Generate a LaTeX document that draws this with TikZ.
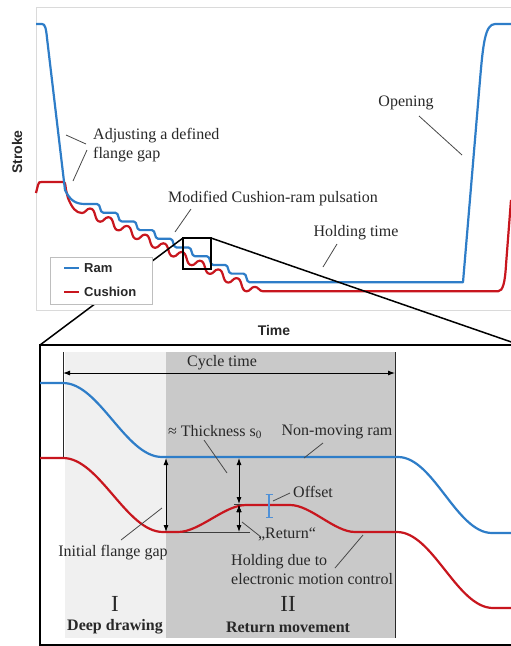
\documentclass[tikz,border=0pt]{standalone}
\usepackage{fontspec}
\setmainfont{Liberation Serif}
\setsansfont{Liberation Sans}
\usetikzlibrary{arrows.meta}
\definecolor{ramblue}{RGB}{46,125,200}
\definecolor{cushred}{RGB}{200,22,30}
\definecolor{offblue}{RGB}{80,145,215}
\definecolor{txtgray}{RGB}{40,40,40}
\definecolor{framegray}{RGB}{218,218,218}
\definecolor{legendgray}{RGB}{190,190,190}
\definecolor{phaseone}{RGB}{240,240,240}
\definecolor{phasetwo}{RGB}{201,201,201}

\begin{document}
\begin{tikzpicture}[x=1pt,y=-1pt,
    lbl/.style={text=txtgray,font=\fontsize{16}{19}\selectfont,inner sep=0pt},
    axis label/.style={text=txtgray,font=\sffamily\bfseries\fontsize{14}{16}\selectfont,inner sep=0pt},
    ram line/.style={ramblue,line width=2.2pt,line join=round},
    cushion line/.style={cushred,line width=2.2pt,line join=round},
    leader/.style={draw=txtgray!85,line width=0.8pt},
    dim arrow/.style={draw=black,line width=0.9pt,{Latex[length=7pt,width=5pt]}-{Latex[length=7pt,width=5pt]}},
    scurve/.style={out=0,in=180,looseness=0.75},
    zoom line/.style={draw=black,line width=1.5pt}]
    \clip (0,0) rectangle (511,646);
    \fill[white] (0,0) rectangle (511,646);

    % overview plot
    \draw[framegray,line width=1pt] (36,7) rectangle (540,310);
    \draw[cushion line] (36,193) -- (38,185) .. controls (39,182) .. (42,182) -- (63,182)
        .. controls (65,182) .. (66,190) -- (68,198) .. controls (72,208) and (76,213) .. (82,213)
        \foreach \k in {0,...,8} {
            to[out=0,in=180] ({90+18.3*\k},{208.5+8.7*\k})
            to[out=0,in=180] ({100.3+18.3*\k},{221.7+8.7*\k}) }
        to[out=0,in=180] (254.7,286.8) to[out=0,in=180] (263,291.3) -- (498,291.3)
        .. controls (503,291.3) and (505,282) .. (506,265) -- (511,200);
    \draw[ram line] (36,24) -- (42,24) .. controls (45,24) and (46,28) .. (47,38) -- (65,190)
        .. controls (70,200) and (75,204) .. (85,204)
        \foreach \k in {0,...,8} {
            -- ({97+18.3*\k},{204+8.7*\k})
            to[out=0,in=180] ({103.3+18.3*\k},{212.7+8.7*\k}) }
        -- (463,282.3) -- (480,80) .. controls (483,45) and (485,24) .. (495,24) -- (511,24);

    \coordinate (boxnw) at (183,238);
    \coordinate (boxne) at (211,238);
    \coordinate (panelnw) at (40,345);
    \coordinate (panelne) at (520,345);
    \path[zoom line] (boxnw) edge (panelnw) (boxne) edge (panelne);
    \draw[zoom line] (183,238) rectangle (211,269);

    \draw[legendgray,fill=white,line width=0.8pt] (50,257) rectangle (152,304);
    \draw[ram line] (64,268) -- (79,268);
    \draw[cushion line] (64,292) -- (79,292);
    \node[axis label,anchor=west,font=\sffamily\bfseries\fontsize{13}{15}\selectfont] (legram) at (84,268) {Ram};
    \node[axis label,anchor=west,font=\sffamily\bfseries\fontsize{13}{15}\selectfont] (legcush) at (84,292) {Cushion};

    \node[axis label,rotate=90] (stroke) at (17,152) {Stroke};
    \node[axis label] (time) at (274,330) {Time};

    \node[lbl,align=left,anchor=west] (adjust) at (93,145.5) {Adjusting a defined\\flange gap};
    \node[lbl] (opening) at (406,103) {Opening};
    \node[lbl] (pulsation) at (273,199) {Modified Cushion-ram pulsation};
    \node[lbl] (holdtime) at (356,233) {Holding time};

    \coordinate (adjA1) at (66,135);  \coordinate (adjA2) at (86,144);
    \coordinate (adjB1) at (87,150);  \coordinate (adjB2) at (73,181);
    \coordinate (open1) at (419,116); \coordinate (open2) at (462,155);
    \coordinate (puls1) at (191,209); \coordinate (puls2) at (175,232);
    \coordinate (hold1) at (337,244); \coordinate (hold2) at (323,267);
    \path[leader]
        (adjA1) edge (adjA2)
        (adjB1) edge (adjB2)
        (open1) edge (open2)
        (puls1) edge (puls2)
        (hold1) edge (hold2);

    % detail panel
    \fill[phaseone] (65,352) rectangle (166,638);
    \fill[phasetwo] (166,352) rectangle (395,638);
    \draw[black,line width=1.5pt] (40,345) rectangle (540,645);
    \draw[txtgray,line width=0.9pt] (63,352) -- (63,458);
    \draw[txtgray,line width=0.9pt] (395,352) -- (395,638);
    \draw[txtgray!90,line width=1pt] (166,532) -- (250,532);
    \draw[txtgray!90,line width=1pt] (234,504) -- (250,504);

    \draw[ram line] (40,383) -- (63,383) to[scurve] (162,457) -- (398,457) to[scurve] (492,533) -- (511,533);
    \draw[cushion line] (40,458) -- (63,458) to[scurve] (163,532) -- (178,532) to[scurve] (246,505)
        -- (290,505) to[scurve] (355,532) -- (397,532) to[scurve] (493,608) -- (511,608);

    \coordinate (cycA) at (63,373);  \coordinate (cycB) at (395,373);
    \coordinate (gapA) at (166,458); \coordinate (gapB) at (166,532);
    \coordinate (thkA) at (239,458); \coordinate (thkB) at (239,504);
    \coordinate (retA) at (239,505); \coordinate (retB) at (239,532);
    \path[dim arrow] (cycA) edge (cycB) (gapA) edge (gapB) (thkA) edge (thkB) (retA) edge (retB);
    \coordinate (offA) at (269,494); \coordinate (offB) at (269,518);
    \path[draw=offblue,line width=1.1pt,{Bar[width=7pt]}-{Bar[width=7pt]}] (offA) edge (offB);

    \node[lbl] (cycle) at (222,363) {Cycle time};
    \node[lbl] (thick) at (215,432) {≈ Thickness s\textsubscript{0}};
    \node[lbl] (nonmoving) at (337,432) {Non-moving ram};
    \node[lbl,anchor=west] (offset) at (293,492) {Offset};
    \node[lbl] (return) at (287,534) {„Return“};
    \node[lbl] (initgap) at (113,553) {Initial flange gap};
    \node[lbl,align=left,anchor=west] (holding) at (231,569.5) {Holding due to\\electronic motion control};
    \node[lbl,font=\fontsize{23}{23}\selectfont] (phaseI) at (115,604) {I};
    \node[lbl,font=\bfseries\fontsize{16}{19}\selectfont] (deepdraw) at (115,627) {Deep drawing};
    \node[lbl,font=\fontsize{23}{23}\selectfont] (phaseII) at (288,604) {II};
    \node[lbl,font=\bfseries\fontsize{16}{19}\selectfont] (returnmove) at (288,627) {Return movement};

    \coordinate (thk1) at (204,440); \coordinate (thk2) at (227,473);
    \coordinate (nmr1) at (323,443); \coordinate (nmr2) at (304,458);
    \coordinate (off1) at (290,493); \coordinate (off2) at (273,501);
    \coordinate (ret1) at (261,537); \coordinate (ret2) at (242,522);
    \coordinate (gap1) at (121,540); \coordinate (gap2) at (162,508);
    \coordinate (hld1) at (335,568); \coordinate (hld2) at (363,535);
    \path[leader]
        (thk1) edge (thk2)
        (nmr1) edge (nmr2)
        (off1) edge (off2)
        (ret1) edge (ret2)
        (gap1) edge (gap2)
        (hld1) edge (hld2);
\end{tikzpicture}
\end{document}
